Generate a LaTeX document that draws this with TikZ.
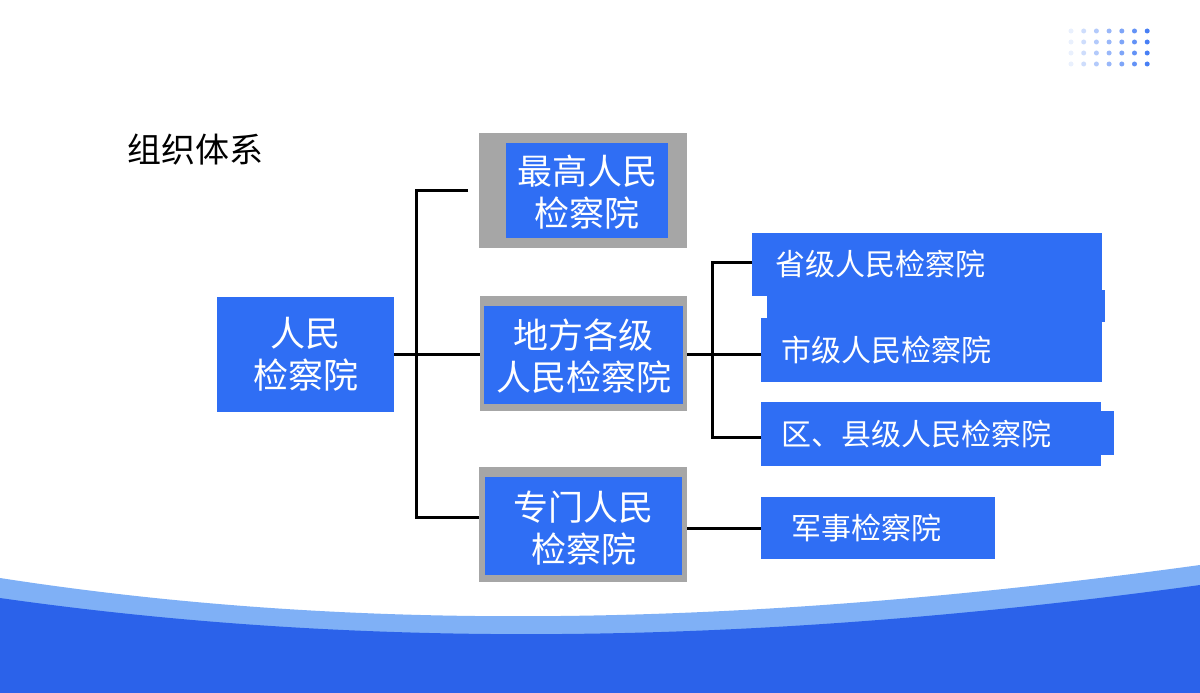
\documentclass[tikz,border=0pt]{standalone}
\usepackage{fontspec}
\newfontfamily\cjk{Noto Sans CJK SC}
\begin{document}
\begin{tikzpicture}[x=1pt,y=-1pt,
 bl/.style={fill=myblue,draw=none},
 gr/.style={fill=mygray,draw=none},
 tx/.style={text=white,font=\cjk\fontsize{35}{42}\selectfont,align=center},
 rt/.style={text=white,font=\cjk\fontsize{30}{34}\selectfont,anchor=west},
 ln/.style={line width=3pt,black}]
\definecolor{myblue}{HTML}{2F6EF4}
\definecolor{mygray}{HTML}{A6A6A6}
\definecolor{wave1}{HTML}{7FB0F6}
\definecolor{wave2}{HTML}{2B62EA}
\useasboundingbox (0,0) rectangle (1200,693);
\fill[white] (0,0) rectangle (1200,693);
% waves
\fill[wave1] (0,578) .. controls (400,640) and (800,620) .. (1200,565) -- (1200,693) -- (0,693) -- cycle;
\fill[wave2] (0,598) .. controls (400,655) and (800,640) .. (1200,585) -- (1200,693) -- (0,693) -- cycle;
% dots
\foreach \i in {0,...,6}{\foreach \j in {0,...,3}{
 \pgfmathsetmacro{\op}{0.1+0.13*\i}
 \fill[myblue,opacity=\op] (1071+12.7*\i,31+11*\j) circle (2.5);}}
\node[font=\cjk\fontsize{34}{38}\selectfont,anchor=west] (title) at (124,150) {组织体系};
% left
\fill[bl] (217,297) rectangle (394,412);
\node[tx] (root) at (305.5,354.5) {人民\\检察院};
% gray boxes
\fill[gr] (479,133) rectangle (687,248);
\fill[bl] (506,143) rectangle (668,238);
\node[tx] (top) at (587,192) {最高人民\\检察院};
\fill[gr] (480,296) rectangle (687,411);
\fill[bl] (484,306) rectangle (683,404);
\node[tx] (mid) at (583.5,356) {地方各级\\人民检察院};
\fill[gr] (479,467) rectangle (687,582);
\fill[bl] (485,477) rectangle (682,575);
\node[tx] (bot) at (583.5,528) {专门人民\\检察院};
% right boxes
\fill[bl] (752,233) rectangle (1102,296);
\fill[bl] (767,290) rectangle (1105,322);
\node[rt] (r1) at (772,264) {省级人民检察院};
\fill[bl] (761,318) rectangle (1102,382);
\node[rt] (r2) at (778,350) {市级人民检察院};
\fill[bl] (761,402) rectangle (1101,466);
\fill[bl] (1095,411) rectangle (1114,455);
\node[rt] (r3) at (778,434) {区、县级人民检察院};
\fill[bl] (761,497) rectangle (995,559);
\node[rt] (r4) at (788,528) {军事检察院};
% lines
\coordinate (b1) at (416,190); \coordinate (b2) at (416,354); \coordinate (b3) at (416,517);
\draw[ln] (468,190) -- (b1) -- (b3) -- (479,517);
\draw[ln] (394,354) -- (480,354);
\coordinate (c1) at (712,262); \coordinate (c3) at (712,437);
\draw[ln] (752,262) -- (c1) -- (c3) -- (761,437);
\draw[ln] (687,354) -- (761,354);
\draw[ln] (687,528) -- (761,528);
\end{tikzpicture}
\end{document}
